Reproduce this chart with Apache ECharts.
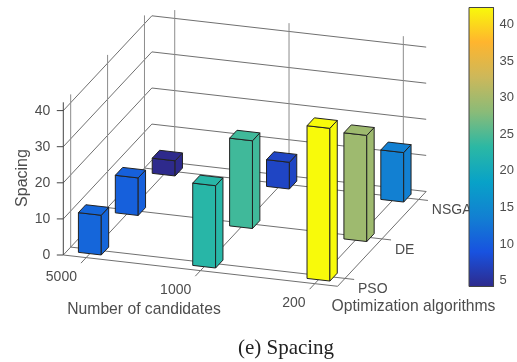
<!DOCTYPE html>
<html>
<head>
<meta charset="utf-8">
<script src="https://cdn.jsdelivr.net/npm/echarts@6/dist/echarts.min.js"></script>
<style>
html, body { margin: 0; padding: 0; background: #fff; }
#chart { width: 517px; height: 362px; }
</style>
</head>
<body>
<div id="chart"></div>
<script>
var candidates = ['5000', '1000', '200'];
var algorithms = ['PSO', 'DE', 'NSGA'];
var zTicks = [0, 10, 20, 30, 40];
var colorTicks = [5, 10, 15, 20, 25, 30, 35, 40];

var pso = [11, 22.8, 42.3];
var de = [10.4, 24.3, 29.4];
var nsga = [4.2, 7.4, 13.7];

var zMin = 4.2;
var zMax = 42.3;
var colormap = ['#2e2a8c', '#1852e0', '#1280d2', '#08a2c8', '#2bb8a4', '#8abb78', '#cdb85a', '#ffb52e', '#f8fa0a'];

// fake 3d: the plane of the picture is the hidden pixel axes, walls are at -0.2 .. 2.2
var origin = [63.3, 255];
var ux = [114.3, 13.04];
var uy = [36.9, -39.5];
var uz = -3.61;
var edge0 = -0.2;
var edge1 = 2.2;
var zTop = 42.3;
var barHalf = 0.1;
var font = '"Liberation Sans", Arial, sans-serif';

function project(i, j, z) {
  return [
    origin[0] + (i - edge0) * ux[0] + (j - edge0) * uy[0],
    origin[1] + (i - edge0) * ux[1] + (j - edge0) * uy[1] + z * uz
  ];
}

function line3d(api, a, b, color, width) {
  var p = api.coord(project(a[0], a[1], a[2]));
  var q = api.coord(project(b[0], b[1], b[2]));
  return {
    type: 'line',
    shape: { x1: p[0], y1: p[1], x2: q[0], y2: q[1] },
    style: { stroke: color, lineWidth: width, fill: null }
  };
}

function label(api, pos, dx, dy, text, align) {
  var p = api.coord(pos);
  return {
    type: 'text',
    x: p[0] + dx,
    y: p[1] + dy,
    style: {
      text: text,
      fill: '#4d4d4d',
      font: '14px ' + font,
      align: align,
      verticalAlign: 'middle'
    }
  };
}

function renderFrame(params, api) {
  var kids = [];
  var wallColor = '#707070';
  var gridColor = '#8c8c8c';
  var axisColor = '#444';
  zTicks.forEach(function (z) {
    if (z > 0) {
      kids.push(line3d(api, [edge0, edge0, z], [edge0, edge1, z], wallColor, 1));
      kids.push(line3d(api, [edge0, edge1, z], [edge1, edge1, z], wallColor, 1));
    }
    var p = api.coord(project(edge0, edge0, z));
    kids.push({
      type: 'line',
      shape: { x1: p[0] - 6.5, y1: p[1], x2: p[0], y2: p[1] },
      style: { stroke: axisColor, lineWidth: 1 }
    });
    kids.push(label(api, project(edge0, edge0, z), -13, 0.5, String(z), 'right'));
  });
  candidates.forEach(function (name, i) {
    kids.push(line3d(api, [i, edge1, 0], [i, edge1, zTop], gridColor, 1));
    kids.push(line3d(api, [i, edge0, 0], [i, edge1, 0], wallColor, 1));
    kids.push(line3d(api, [i, edge0, 0], [i, edge0 - 0.14, 0], wallColor, 1));
    kids.push(label(api, project(i, edge0, 0), -9.2, 19.5, name, 'right'));
  });
  algorithms.forEach(function (name, j) {
    kids.push(line3d(api, [edge0, j, 0], [edge0, j, zTop], gridColor, 1));
    kids.push(line3d(api, [edge0, j, 0], [edge1, j, 0], wallColor, 1));
    kids.push(line3d(api, [edge1, j, 0], [edge1 + 0.08, j, 0], wallColor, 1));
    kids.push(label(api, project(edge1, j, 0), 13, 11, name, 'left'));
  });
  kids.push(line3d(api, [edge0, edge1, 0], [edge1, edge1, 0], wallColor, 1));
  kids.push(line3d(api, [edge0, edge0, 0], [edge0, edge1, 0], wallColor, 1));
  kids.push(line3d(api, [edge0, edge0, 0], [edge1, edge0, 0], wallColor, 1));
  kids.push(line3d(api, [edge1, edge0, 0], [edge1, edge1, 0], wallColor, 1));
  kids.push(line3d(api, [edge0, edge0, 0], [edge0, edge0, zTop], axisColor, 1));
  return { type: 'group', children: kids };
}

function renderBar(params, api) {
  var i = api.value(0);
  var j = api.value(1);
  var v = api.value(2);
  var color = api.visual('color');
  function pts(list) {
    return list.map(function (c) { return api.coord(project(c[0], c[1], c[2])); });
  }
  var x0 = i - barHalf, x1 = i + barHalf, y0 = j - barHalf, y1 = j + barHalf;
  var faces = [
    [[x0, y0, 0], [x1, y0, 0], [x1, y0, v], [x0, y0, v]],
    [[x1, y0, 0], [x1, y1, 0], [x1, y1, v], [x1, y0, v]],
    [[x0, y0, v], [x1, y0, v], [x1, y1, v], [x0, y1, v]]
  ];
  return {
    type: 'group',
    children: faces.map(function (f) {
      return {
        type: 'polygon',
        shape: { points: pts(f) },
        style: { fill: color, stroke: '#222', lineWidth: 1, lineJoin: 'round' }
      };
    })
  };
}

// back row first so the front bars paint over it
var barData = [];
[nsga, de, pso].forEach(function (row, r) {
  var j = algorithms.length - 1 - r;
  row.forEach(function (v, i) {
    barData.push([i, j, v]);
  });
});

var colorStops = colormap.map(function (c, k) {
  return { offset: 1 - k / (colormap.length - 1), color: c };
}).reverse();

var chart = echarts.init(document.getElementById('chart'), null, { renderer: 'canvas' });
chart.setOption({
  animation: false,
  backgroundColor: '#fff',
  grid: [
    { left: 0, top: 0, width: 517, height: 362, show: false },
    { left: 469, top: 7.5, width: 28, height: 279, show: false, z: 5 }
  ],
  xAxis: [
    { type: 'value', gridIndex: 0, min: 0, max: 517, show: false },
    { type: 'category', gridIndex: 1, data: ['c'], show: false }
  ],
  yAxis: [
    { type: 'value', gridIndex: 0, min: 0, max: 362, inverse: true, show: false },
    {
      type: 'value',
      gridIndex: 1,
      min: zMin,
      max: zMax,
      position: 'right',
      splitLine: { show: false },
      axisLine: { show: true, lineStyle: { color: '#444' } },
      axisTick: { show: true, inside: true, length: 4, lineStyle: { color: '#444' }, customValues: colorTicks },
      axisLabel: {
        color: '#4d4d4d',
        fontSize: 13,
        fontFamily: font,
        margin: 6,
        customValues: colorTicks
      }
    }
  ],
  visualMap: {
    show: false,
    type: 'continuous',
    min: zMin,
    max: zMax,
    dimension: 2,
    seriesIndex: 1,
    inRange: { color: colormap }
  },
  series: [
    {
      type: 'custom',
      name: 'frame',
      xAxisIndex: 0,
      yAxisIndex: 0,
      data: [[0, 0]],
      clip: false,
      silent: true,
      renderItem: renderFrame
    },
    {
      type: 'custom',
      name: 'Spacing',
      xAxisIndex: 0,
      yAxisIndex: 0,
      data: barData,
      encode: { x: 0, y: 1 },
      clip: false,
      renderItem: renderBar
    },
    {
      type: 'custom',
      name: 'colorbar',
      xAxisIndex: 1,
      yAxisIndex: 1,
      z: 6,
      data: [[0, zMin, zMax]],
      renderItem: function (params, api) {
        var a = api.coord([0, api.value(1)]);
        var b = api.coord([0, api.value(2)]);
        return {
          type: 'rect',
          shape: { x: params.coordSys.x, y: b[1], width: params.coordSys.width, height: a[1] - b[1] },
          style: {
            fill: new echarts.graphic.LinearGradient(0, 0, 0, 1, colorStops),
            stroke: '#444',
            lineWidth: 1
          }
        };
      }
    }
  ],
  graphic: [
    { type: 'text', x: 23, y: 178, rotation: Math.PI / 2, style: { text: 'Spacing', fill: '#4d4d4d', font: '16px ' + font, align: 'center', verticalAlign: 'middle' } },
    { type: 'text', x: 144, y: 310, style: { text: 'Number of candidates', fill: '#4d4d4d', font: '15.7px ' + font, align: 'center', verticalAlign: 'middle' } },
    { type: 'text', x: 413.5, y: 307, style: { text: 'Optimization algorithms', fill: '#4d4d4d', font: '15.7px ' + font, align: 'center', verticalAlign: 'middle' } },
    { type: 'text', x: 286, y: 348, style: { text: '(e) Spacing', fill: '#222', font: '21px "Liberation Serif", "Times New Roman", serif', align: 'center', verticalAlign: 'middle' } }
  ]
});
</script>
</body>
</html>
